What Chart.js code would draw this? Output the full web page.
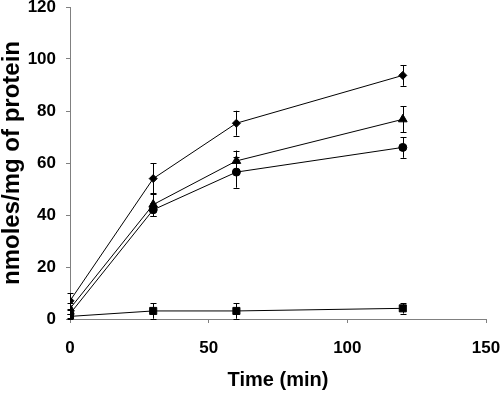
<!DOCTYPE html>
<html>
<head>
<meta charset="utf-8">
<script src="https://cdn.jsdelivr.net/npm/chart.js@4"></script>
<style>
  html, body { margin: 0; padding: 0; background: #fff; }
  #wrap { width: 500px; height: 394px; position: relative; }
</style>
</head>
<body>
<div id="wrap"><canvas id="c"></canvas></div>
<script>
const times = [0, 30, 60, 120];
const diamondVals = [7, 54, 75.3, 93.7];
const diamondErr  = [3, 6, 4.8, 4];
const triangleVals = [4, 44, 60.8, 76.8];
const triangleErr  = [2, 4.5, 4, 5];
const circleVals = [2, 42, 56.5, 66];
const circleErr  = [1.5, 2.5, 6, 4];
const squareVals = [1, 3.1, 3.1, 4.1];
const squareErr  = [1, 3, 3, 2];
const xTicks = [0, 50, 100, 150];
const yTicks = [0, 20, 40, 60, 80, 100, 120];

function pts(vals) { return times.map((t, i) => ({x: t, y: vals[i]})); }

const AXIS = '#808080';
const FONT = "'Liberation Sans', Arial, sans-serif";

const errorBars = {
  id: 'errorBars',
  afterDatasetsDraw(chart) {
    const ctx = chart.ctx;
    const ys = chart.scales.y;
    ctx.save();
    ctx.strokeStyle = '#000';
    ctx.lineWidth = 1;
    chart.data.datasets.forEach((ds, di) => {
      const meta = chart.getDatasetMeta(di);
      meta.data.forEach((p, i) => {
        const v = ds.data[i].y, e = ds.errors[i];
        const x = Math.round(p.x) + 0.5;
        const y1 = ys.getPixelForValue(v + e), y2 = ys.getPixelForValue(Math.max(0, v - e));
        ctx.beginPath();
        ctx.moveTo(x, y1); ctx.lineTo(x, y2);
        ctx.moveTo(x - 3, Math.round(y1) + 0.5); ctx.lineTo(x + 3, Math.round(y1) + 0.5);
        ctx.moveTo(x - 3, Math.round(y2) + 0.5); ctx.lineTo(x + 3, Math.round(y2) + 0.5);
        ctx.stroke();
      });
    });
    ctx.restore();
  }
};

function ds(vals, errs, style, r) {
  return {
    data: pts(vals), errors: errs,
    borderColor: '#000', backgroundColor: '#000', borderWidth: 1,
    pointStyle: style, pointRadius: r, pointBackgroundColor: '#000',
    pointBorderColor: '#000', pointBorderWidth: 1, tension: 0
  };
}

new Chart(document.getElementById('c'), {
  type: 'line',
  data: {
    datasets: [
      ds(squareVals, squareErr, 'rect', 5),
      ds(circleVals, circleErr, 'circle', 4),
      ds(triangleVals, triangleErr, 'triangle', 5),
      ds(diamondVals, diamondErr, 'rectRot', 4)
    ]
  },
  options: {
    responsive: true, maintainAspectRatio: false, animation: false,
    layout: { padding: { top: 7, right: 14, left: 0, bottom: 0 } },
    plugins: { legend: { display: false }, tooltip: { enabled: false } },
    scales: {
      x: {
        type: 'linear', min: 0, max: 150,
        afterBuildTicks: s => { s.ticks = xTicks.map(v => ({value: v})); },
        afterFit: s => { s.height = 75; s.paddingLeft = 0; s.paddingRight = 0; },
        border: { color: AXIS, width: 1 },
        grid: { display: true, drawOnChartArea: false, drawTicks: true, tickLength: 4, color: AXIS, tickColor: AXIS },
        ticks: { color: '#000', padding: 15, maxRotation: 0, font: { family: FONT, size: 17, weight: 'bold' } },
        title: { display: true, text: 'Time (min)', color: '#000', padding: { top: 0, bottom: 2 }, font: { family: FONT, size: 20, weight: 'bold' } }
      },
      y: {
        type: 'linear', min: 0, max: 120,
        afterBuildTicks: s => { s.ticks = yTicks.map(v => ({value: v})); },
        afterFit: s => { s.width = 70; s.paddingTop = 0; s.paddingBottom = 0; },
        border: { color: AXIS, width: 1 },
        grid: { display: true, drawOnChartArea: false, drawTicks: true, tickLength: 4, color: AXIS, tickColor: AXIS },
        ticks: { color: '#000', padding: 10, font: { family: FONT, size: 17, weight: 'bold' } },
        title: { display: true, text: 'nmoles/mg of protein', color: '#000', padding: 0, font: { family: FONT, size: 24, weight: 'bold', lineHeight: 1 } }
      }
    }
  },
  plugins: [errorBars]
});
</script>
</body>
</html>
